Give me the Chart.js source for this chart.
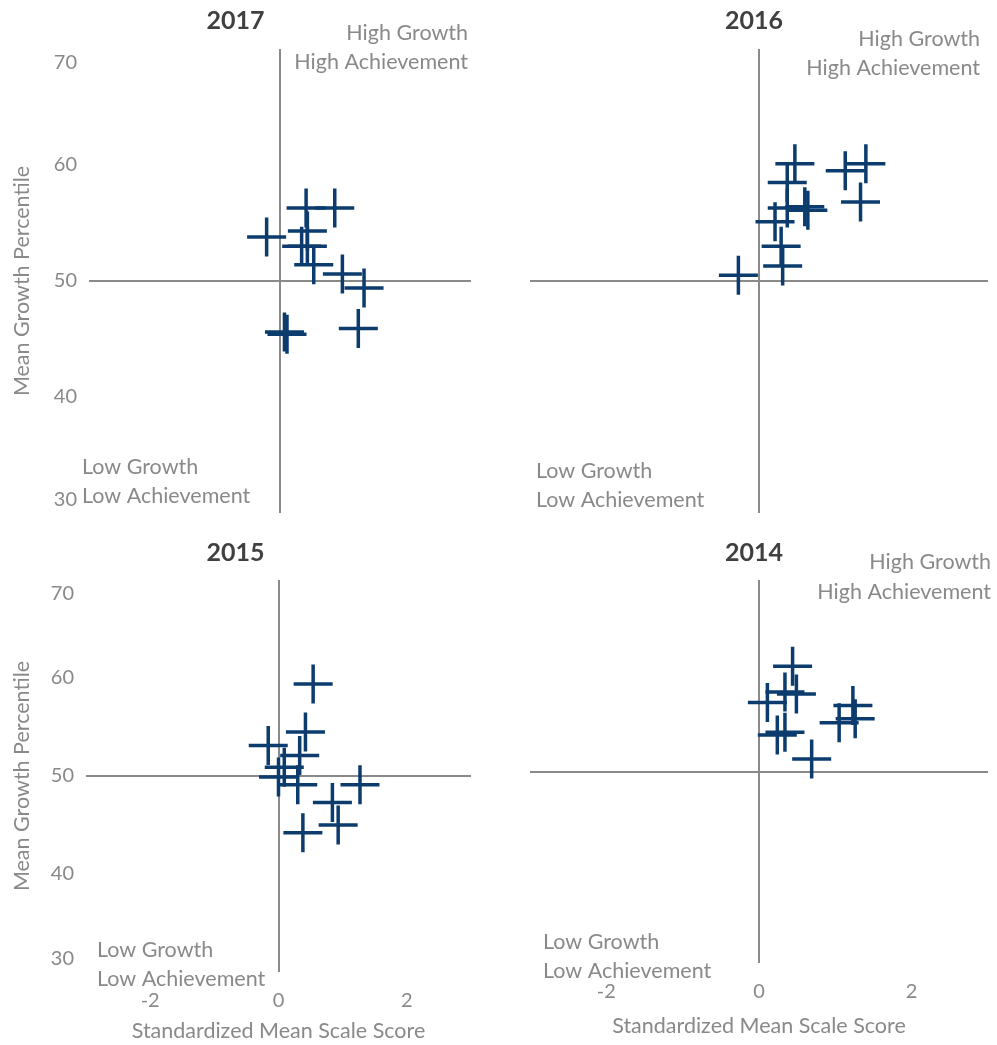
<!DOCTYPE html>
<html>
<head>
<meta charset="utf-8">
<script src="https://cdn.jsdelivr.net/npm/chart.js@4/dist/chart.umd.min.js"></script>
<style>
    body { margin: 0; background: #fff; }
    #wrap { position: relative; width: 997px; height: 1045px; }
    .panel { position: absolute; }
</style>
</head>
<body>
<div id="wrap">
    <div class="panel" style="left:0px;top:0px;width:472px;height:520px"><canvas id="c2017"></canvas></div>
    <div class="panel" style="left:520px;top:0px;width:477px;height:520px"><canvas id="c2016"></canvas></div>
    <div class="panel" style="left:0px;top:530px;width:472px;height:515px"><canvas id="c2015"></canvas></div>
    <div class="panel" style="left:520px;top:530px;width:477px;height:515px"><canvas id="c2014"></canvas></div>
</div>
<script>
// values
const x2017 = [-0.21, 0.41, 0.86, 0.43, 0.34, 0.43, 0.53, 0.98, 1.32, 1.23, 0.07, 0.11];
const y2017 = [53.8, 56.3, 56.3, 54.3, 53.0, 53.0, 51.4, 50.6, 49.4, 45.9, 45.6, 45.4];

const x2016 = [-0.27, 0.47, 0.37, 0.21, 0.37, 0.60, 0.64, 0.29, 0.31, 1.13, 1.40, 1.33];
const y2016 = [50.5, 60.1, 58.5, 55.1, 56.3, 56.4, 56.1, 53.0, 51.3, 59.5, 60.1, 56.8];

const x2015 = [0.54, 0.42, -0.16, 0.33, 0.09, 0.00, 0.30, 0.84, 1.27, 0.93, 0.38];
const y2015 = [59.4, 54.5, 53.1, 52.1, 50.9, 49.9, 49.1, 47.3, 49.1, 45.0, 44.2];

const x2014 = [0.44, 0.34, 0.49, 0.11, 0.24, 0.34, 0.69, 1.05, 1.23, 1.26];
const y2014 = [61.0, 58.3, 58.1, 57.2, 53.8, 54.1, 51.3, 55.1, 56.9, 55.5];

const xTicks = [-2, 0, 2];
const yTicks = [30, 40, 50, 60, 70];
const xRange = [-3, 3];
const yRange = [30, 70];
const xCross = 0;
const yCross = 50;

const xTitle = "Standardized Mean Scale Score";
const yTitle = "Mean Growth Percentile";
const highText = ["High Growth", "High Achievement"];
const lowText = ["Low Growth", "Low Achievement"];

const FONT = "Lato";
const GREY = "#898989";
const LINE = "#8a8a8a";
const NAVY = "#0b3c6d";

// draws the quadrant captions next to the plot area
const quadrantLabels = {
    id: "quadrantLabels",
    afterDraw(chart, args, opts) {
        const ctx = chart.ctx;
        const area = chart.chartArea;
        ctx.save();
        ctx.font = "21.5px " + FONT;
        ctx.fillStyle = GREY;
        ctx.textBaseline = "middle";
        if (opts.high) {
            ctx.textAlign = "right";
            ctx.fillText(highText[0], area.right + opts.high.dx, area.top + opts.high.dy[0]);
            ctx.fillText(highText[1], area.right + opts.high.dx, area.top + opts.high.dy[1]);
        }
        if (opts.low) {
            ctx.textAlign = "left";
            ctx.fillText(lowText[0], area.left + opts.low.dx, area.bottom + opts.low.dy[0]);
            ctx.fillText(lowText[1], area.left + opts.low.dx, area.bottom + opts.low.dy[1]);
        }
        ctx.restore();
    }
};

// Excel keeps the end labels of the value axis inside the plot area
const insetEndLabels = {
    id: "insetEndLabels",
    afterLayout(chart) {
        const y = chart.scales.y;
        if (!y.options.ticks.display) return;
        const items = y.getLabelItems();
        if (!items.length) return;
        items[0].options.translation[1] -= 13;
        items[items.length - 1].options.translation[1] += 14;
    }
};

function makePanel(id, year, xs, ys, p) {
    const ctx = document.getElementById(id).getContext("2d");
    return new Chart(ctx, {
        type: "scatter",
        data: {
            datasets: [{
                label: year,
                data: xs.map((x, i) => ({ x: x, y: ys[i] })),
                pointStyle: "cross",
                pointRadius: 19.5,
                pointBorderWidth: 3.5,
                borderColor: NAVY,
                backgroundColor: NAVY,
                clip: false
            }]
        },
        options: {
            responsive: true,
            maintainAspectRatio: false,
            animation: false,
            events: [],
            layout: {
                autoPadding: false,
                padding: { left: 0, right: p.padRight, top: 0, bottom: p.padBottom }
            },
            plugins: {
                legend: { display: false },
                tooltip: { enabled: false },
                title: {
                    display: true,
                    text: year,
                    color: "#404040",
                    font: { family: FONT, size: 25, weight: "bold", lineHeight: 1.2 },
                    padding: { top: p.titleTop, bottom: p.titleBottom }
                },
                quadrantLabels: { high: p.high, low: p.low }
            },
            scales: {
                x: {
                    type: "linear",
                    min: xRange[0],
                    max: xRange[1],
                    afterBuildTicks: s => { s.ticks = xTicks.map(v => ({ value: v })); },
                    afterFit: s => {
                        s.height = p.xHeight;
                        s.paddingLeft = 0;
                        s.paddingRight = 0;
                    },
                    border: { display: false },
                    grid: {
                        drawTicks: false,
                        lineWidth: 2,
                        color: c => (c.tick && c.tick.value === xCross) ? LINE : "rgba(0,0,0,0)"
                    },
                    ticks: {
                        display: p.showX,
                        padding: 17,
                        color: GREY,
                        font: { family: FONT, size: 20 }
                    },
                    title: {
                        display: p.showX,
                        text: xTitle,
                        color: GREY,
                        font: { family: FONT, size: 21.5 },
                        padding: { top: 0, bottom: p.xTitlePad }
                    }
                },
                y: {
                    type: "linear",
                    min: yRange[0],
                    max: yRange[1],
                    afterBuildTicks: s => { s.ticks = yTicks.map(v => ({ value: v })); },
                    afterFit: s => {
                        s.width = p.yWidth;
                        s.paddingTop = 0;
                        s.paddingBottom = 0;
                    },
                    border: { display: false },
                    grid: {
                        drawTicks: false,
                        lineWidth: 2,
                        color: c => (c.tick && c.tick.value === yCross) ? LINE : "rgba(0,0,0,0)"
                    },
                    ticks: {
                        display: p.showY,
                        padding: 12,
                        color: GREY,
                        font: { family: FONT, size: 20 }
                    },
                    title: {
                        display: p.showY,
                        text: yTitle,
                        color: GREY,
                        font: { family: FONT, size: 21.5 },
                        padding: { top: 9, bottom: 0 }
                    }
                }
            }
        },
        plugins: [quadrantLabels, insetEndLabels]
    });
}

document.addEventListener("DOMContentLoaded", function () {
    makePanel("c2017", "2017", x2017, y2017, {
        padRight: 1, padBottom: 7, titleTop: 6, titleBottom: 13,
        xHeight: 0, yWidth: 89, showX: false, showY: true, xTitlePad: 0,
        high: { dx: -3, dy: [-16, 13] },
        low: { dx: -7, dy: [-46, -17] }
    });
    makePanel("c2016", "2016", x2016, y2016, {
        padRight: 9, padBottom: 7, titleTop: 6, titleBottom: 13,
        xHeight: 0, yWidth: 10, showX: false, showY: false, xTitlePad: 0,
        high: { dx: -8, dy: [-10, 19] },
        low: { dx: 6, dy: [-42, -13] }
    });
    makePanel("c2015", "2015", x2015, y2015, {
        padRight: 1, padBottom: 0, titleTop: 8, titleBottom: 12,
        xHeight: 73, yWidth: 86, showX: true, showY: true, xTitlePad: 1,
        high: null,
        low: { dx: 11, dy: [-22, 7] }
    });
    makePanel("c2014", "2014", x2014, y2014, {
        padRight: 9, padBottom: 0, titleTop: 8, titleBottom: 12,
        xHeight: 82, yWidth: 10, showX: true, showY: false, xTitlePad: 6,
        high: { dx: 3, dy: [-18, 12] },
        low: { dx: 13, dy: [-21, 8] }
    });
});
</script>
</body>
</html>
